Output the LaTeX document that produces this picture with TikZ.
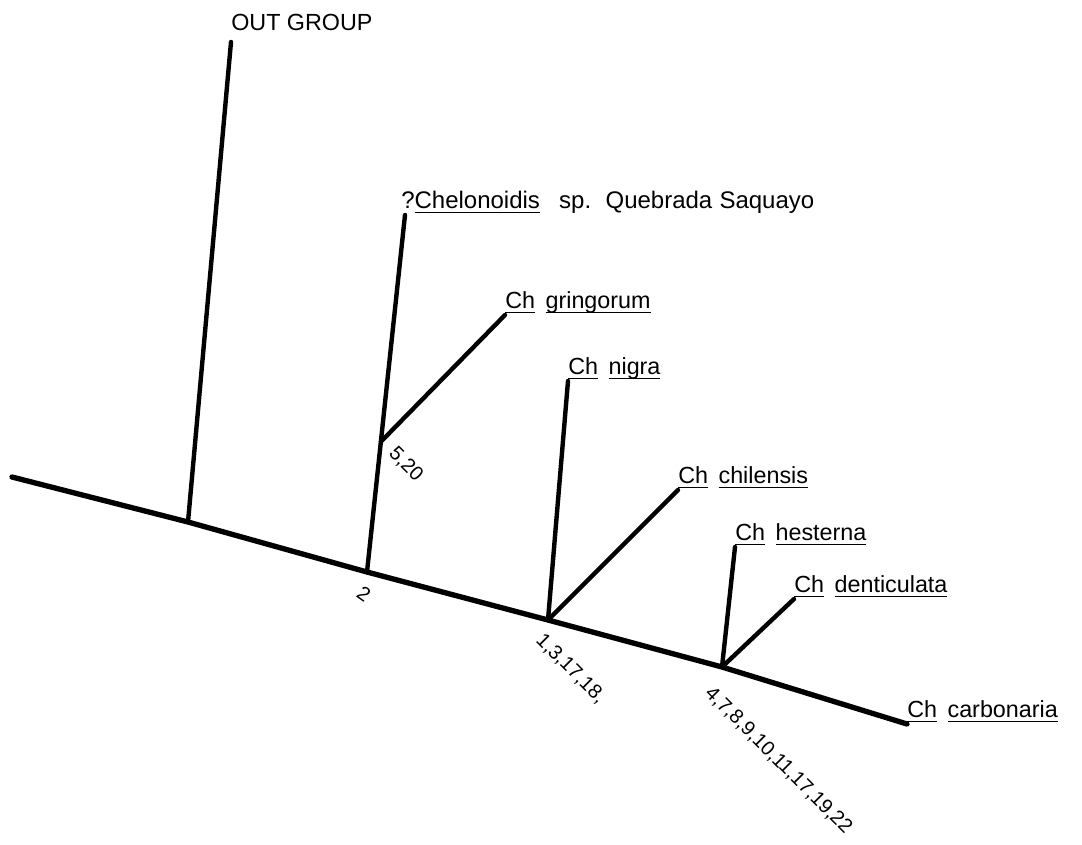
\documentclass[tikz,border=0pt]{standalone}
\usepackage{fontspec}
\setmainfont{Liberation Sans}
\usetikzlibrary{calc}
\newcommand{\uln}[1]{\setbox0=\hbox{#1}\rlap{\rule[-3.5pt]{\wd0}{1.1pt}}\box0}
\newcommand{\gap}{\hspace{0.45em}}
\tikzset{
	axis/.style={line width=4pt, line cap=round, line join=round},
	stem/.style={line width=3.3pt, line cap=round},
	taxon/.style={inner sep=0pt, text depth=4.6pt, font=\fontsize{17.5}{20}\selectfont},
	charlist/.style={inner sep=0pt, rotate=-45, anchor=west, font=\fontsize{15}{18}\selectfont},
}

\begin{document}
\begin{tikzpicture}[x=0.75pt,y=-0.75pt]
		%%%%% START %%%%%
		\useasboundingbox (0,0) rectangle (1082,845);
		
		\coordinate (root) at (12,477);
		\coordinate (n1) at (188,522);
		\coordinate (n2) at (367,572);
		\coordinate (n3) at (548,620);
		\coordinate (n4) at (722,667);
		
		\node[taxon, text depth=8.5pt, anchor=south west] (out) at (231,42) {OUT GROUP};
		\node[taxon, anchor=south west, font=\fontsize{18}{20}\selectfont] (chel) at (401,215) {?\uln{Chelonoidis}\hspace{0.8em}sp.\hspace{0.6em}Quebrada\hspace{0.3em}Saquayo};
		\node[taxon, anchor=south west] (gring) at (505,315) {\uln{Ch}\gap\uln{gringorum}};
		\node[taxon, anchor=south west] (nigra) at (568,381) {\uln{Ch}\gap\uln{nigra}};
		\node[taxon, anchor=south west] (chil) at (678,490) {\uln{Ch}\gap\uln{chilensis}};
		\node[taxon, anchor=south west] (hest) at (735,547) {\uln{Ch}\gap\uln{hesterna}};
		\node[taxon, anchor=south west] (dent) at (794,599) {\uln{Ch}\gap\uln{denticulata}};
		\node[taxon, anchor=south west] (carb) at (907,724) {\uln{Ch}\gap\uln{carbonaria}};
		
		\coordinate (chtop) at ($(chel.south west)+(4,0)$);
		\coordinate (n5) at ($(n2)!0.365!(chtop)$);
		
		% main stem
		\draw[axis] (root) -- (n1) -- (n2) -- (n3) -- (n4) -- (carb.south west);
		
		\draw[stem] (n1) -- (out.south west);
		\draw[stem] (n2) -- (chtop);
		\draw[stem] (n5) -- (gring.south west);
		\draw[stem] (n3) -- (nigra.south west);
		\draw[stem] (n3) -- (chil.south west);
		\draw[stem] (n4) -- (hest.south west);
		\draw[stem] (n4) -- (dent.south west);
		
		% character numbers
		\node[charlist, rotate=10, anchor=center] (c2) at ($(n2)+(-3,22)$) {2};
		\node[charlist] (c5) at ($(n5)+(11,9)$) {5,20};
		\node[charlist] (c3) at ($(n3)+(-9,17)$) {1,3,17,18,};
		\node[charlist] (c4) at ($(n4)+(-14,23)$) {4,7,8,9,10,11,17,19,22};
		%%%%% END %%%%%
\end{tikzpicture}
\end{document}
